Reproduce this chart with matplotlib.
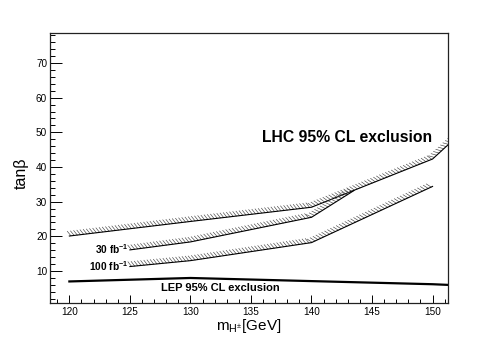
import matplotlib
matplotlib.use("Agg")
import matplotlib.pyplot as plt
import matplotlib.patheffects as pe
from matplotlib.ticker import MultipleLocator

# ── Data ─────────────────────────────────────────────────────────────────────

lhc_x = [120, 130, 140, 150, 152]
lhc_y = [20.1, 24.3, 28.4, 42.3, 48.7]

lhc30_x = [125, 130, 140, 143.5]
lhc30_y = [16.1, 18.4, 25.5, 33.2]

lhc100_x = [125, 130, 140, 150]
lhc100_y = [11.3, 13.0, 18.2, 34.4]

lep_x = [120, 130, 140, 150, 152]
lep_y = [7.0, 8.0, 7.1, 6.2, 5.9]

plt.rcParams["font.family"] = ["Liberation Sans", "DejaVu Sans"]
plt.rcParams["mathtext.fontset"] = "custom"
plt.rcParams["mathtext.rm"] = "Liberation Sans"
plt.rcParams["mathtext.it"] = "Liberation Sans:italic"
plt.rcParams["mathtext.bf"] = "Liberation Sans:bold"

fig = plt.figure(figsize=(4.98, 3.38), dpi=100)
ax = fig.add_axes([50 / 498, 1 - 303.3 / 338, 398.3 / 498, 270 / 338])

# ROOT-style one-sided hatching above each exclusion line
hatch = [pe.withTickedStroke(angle=122, spacing=2.3, length=1.8, linewidth=0.45,
                             foreground="#444444")]

for xs, ys in [(lhc_x, lhc_y), (lhc30_x, lhc30_y), (lhc100_x, lhc100_y)]:
    ax.plot(xs, ys, color="black", lw=0.8, path_effects=hatch)

ax.plot(lep_x, lep_y, color="black", lw=1.6)

# ── Labels inside the plot ───────────────────────────────────────────────────
ax.text(135.9, 48.4, "LHC 95% CL exclusion", fontsize=11.3, fontweight="bold",
        ha="left", va="center")
ax.text(127.6, 5.0, "LEP 95% CL exclusion", fontsize=8, fontweight="bold",
        ha="left", va="center")
ax.text(124.9, 16.4, r"$\mathbf{30\ fb^{-1}}$", fontsize=7.3, ha="right", va="center")
ax.text(124.9, 11.5, r"$\mathbf{100\ fb^{-1}}$", fontsize=7.3, ha="right", va="center")

# ── Axes ─────────────────────────────────────────────────────────────────────
ax.set_xlim(118.4, 151.3)
ax.set_ylim(0.7, 78.55)

ax.xaxis.set_major_locator(MultipleLocator(5))
ax.xaxis.set_minor_locator(MultipleLocator(1))
ax.yaxis.set_major_locator(MultipleLocator(10))
ax.yaxis.set_minor_locator(MultipleLocator(2))

ax.tick_params(axis="x", which="major", direction="in", length=5.5, width=0.7,
               labelsize=7.2, pad=3)
ax.tick_params(axis="x", which="minor", direction="in", length=2.7, width=0.7)
ax.tick_params(axis="y", which="major", direction="in", length=8.5, width=0.7,
               labelsize=7.2, pad=2)
ax.tick_params(axis="y", which="minor", direction="in", length=3.8, width=0.7)
ax.tick_params(top=False, right=False, which="both")

for sp in ax.spines.values():
    sp.set_linewidth(0.9)
    sp.set_color("#222222")

fig.text(249 / 498, 1 - 326 / 338, r"m$_{\mathrm{H^{\pm}}}$[GeV]", fontsize=11,
         ha="center", va="center")
fig.text(21 / 498, 1 - 173 / 338, "tanβ", fontsize=11.5, rotation=90,
         ha="center", va="center")

fig.savefig("out.png", dpi=100)
